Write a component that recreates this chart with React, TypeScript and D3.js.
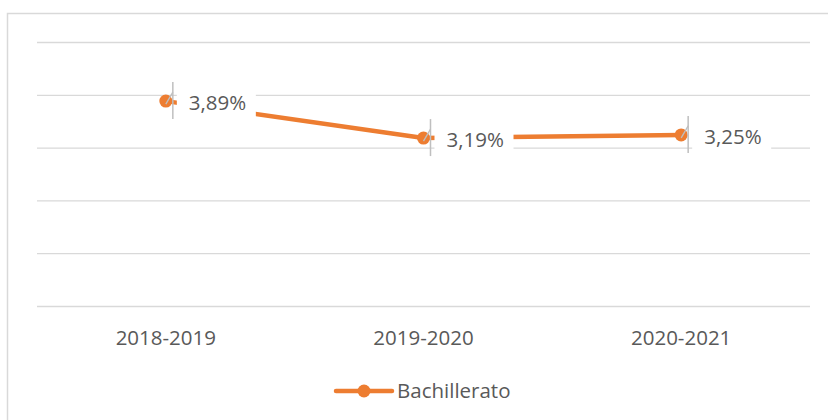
import React from "react";
import * as d3 from "d3";

const categories = ["2018-2019", "2019-2020", "2020-2021"];
const values = [3.89, 3.19, 3.25];
const valueLabels = ["3,89%", "3,19%", "3,25%"];
const yTicks = [0, 1, 2, 3, 4, 5];
const seriesName = "Bachillerato";

const W = 828;
const H = 420;
const ORANGE = "#ED7D31";
const GRID = "#D9D9D9";
const TEXT = "#595959";
const FONT = "'Open Sans', 'Noto Sans', sans-serif";

export default function App() {
  const x = d3.scaleBand<string>().domain(categories).range([37, 810]);
  const y = d3.scaleLinear().domain([0, 5]).range([306.5, 42.5]);
  const cx = (c: string) => (x(c) as number) + x.bandwidth() / 2;
  const pts = categories.map((c, i) => ({ c, v: values[i], lab: valueLabels[i], px: cx(c), py: y(values[i]) }));
  const line = d3
    .line<{ px: number; py: number }>()
    .x((d) => d.px)
    .y((d) => d.py);

  return (
    <svg width={W} height={H} style={{ position: "absolute", left: 0, top: 0, background: "#fff" }}>
      <rect x={7.5} y={13.5} width={W + 10} height={H + 10} fill="#fff" stroke={GRID} strokeWidth={1.5} />
      {yTicks.map((t) => (
        <line key={t} x1={37} x2={810} y1={y(t)} y2={y(t)} stroke={GRID} strokeWidth={1.3} />
      ))}
      <path d={line(pts) as string} fill="none" stroke={ORANGE} strokeWidth={4.5} strokeLinejoin="round" />
      {pts.map((p) => (
        <g key={p.c}>
          <circle cx={p.px} cy={p.py} r={6.5} fill={ORANGE} />
          <line x1={p.px + 7} x2={p.px + 7} y1={p.py - 19} y2={p.py + 18} stroke="#BFBFBF" strokeWidth={1.5} />
          <line x1={p.px} y1={p.py + 3} x2={p.px + 7} y2={p.py - 9} stroke="#BFBFBF" strokeWidth={1.3} />
          <rect x={p.px + 11} y={p.py - 17} width={79} height={34} fill="#fff" />
          <text x={p.px + 23} y={p.py + 9} fontFamily={FONT} fontSize={20.5} fill={TEXT}>
            {p.lab}
          </text>
        </g>
      ))}
      {categories.map((c) => (
        <text key={c} x={cx(c)} y={345} textAnchor="middle" fontFamily={FONT} fontSize={20.5} fill={TEXT}>
          {c}
        </text>
      ))}
      <g>
        <line x1={336} x2={392} y1={391} y2={391} stroke={ORANGE} strokeWidth={4.5} strokeLinecap="round" />
        <circle cx={364} cy={391} r={6.5} fill={ORANGE} />
        <text x={397} y={398} fontFamily={FONT} fontSize={20.5} fill={TEXT}>
          {seriesName}
        </text>
      </g>
    </svg>
  );
}
